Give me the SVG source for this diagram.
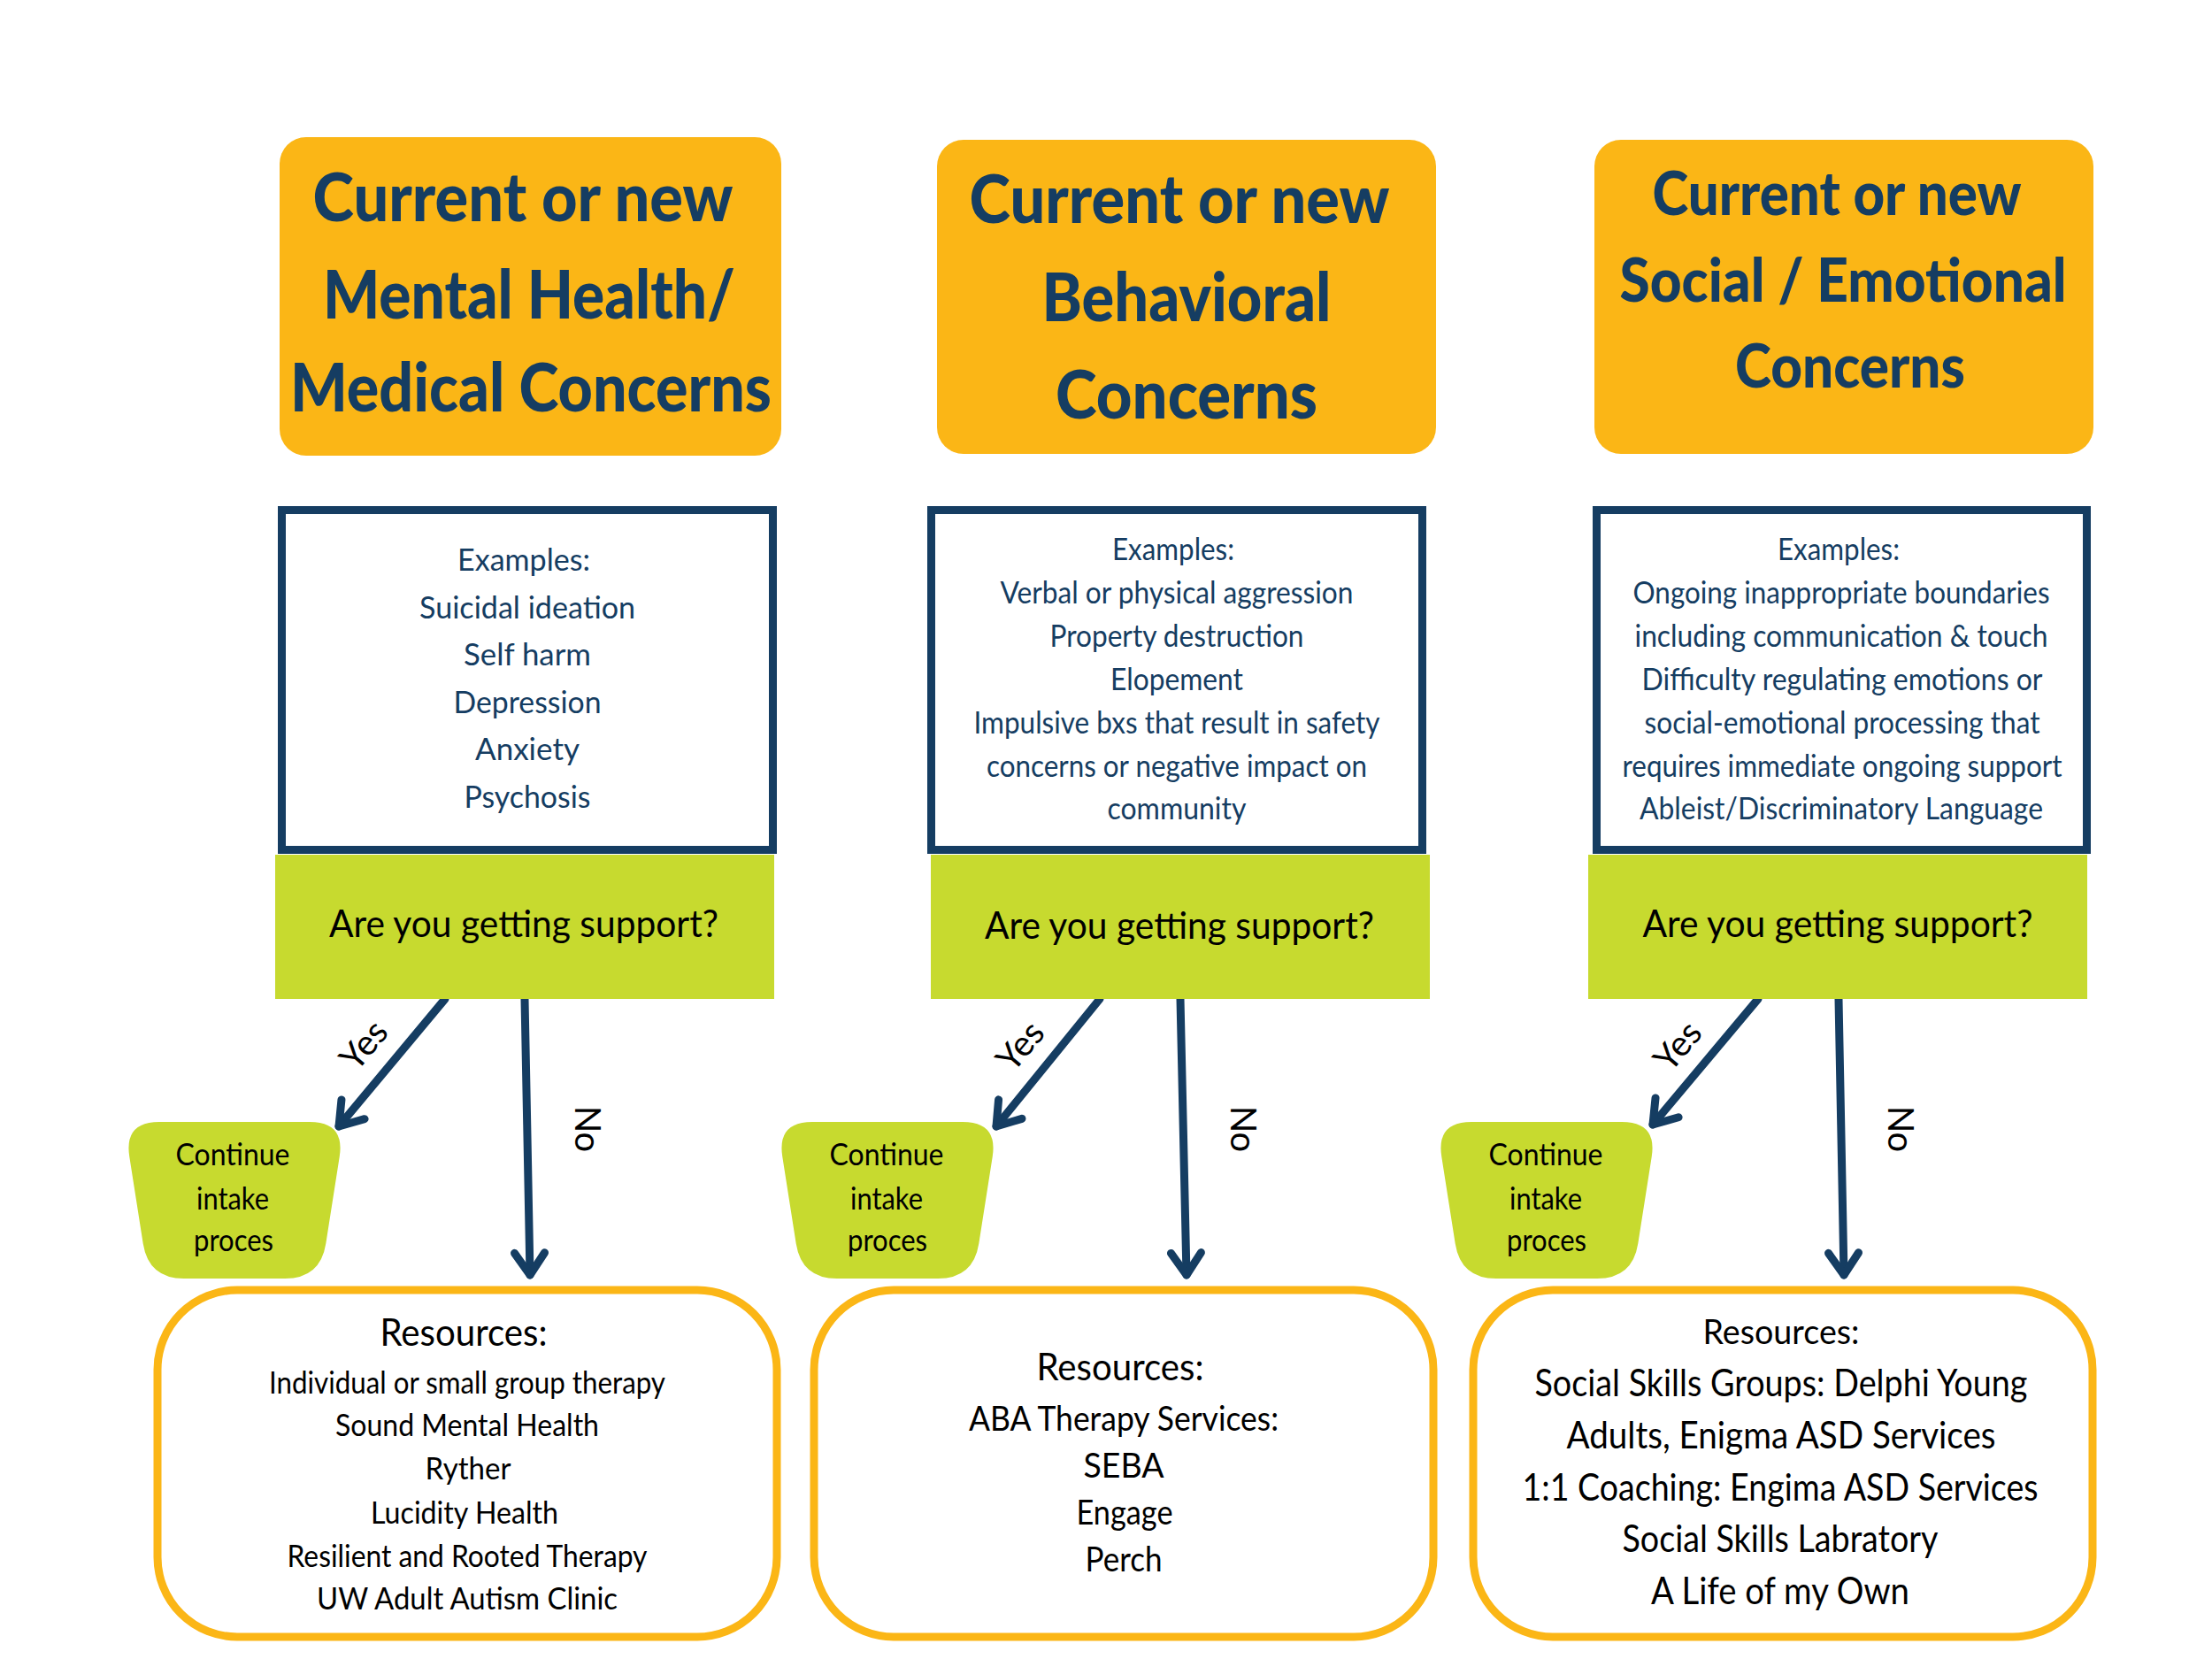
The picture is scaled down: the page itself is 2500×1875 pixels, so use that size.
<svg xmlns="http://www.w3.org/2000/svg" width="2500" height="1875" viewBox="0 0 2500 1875">
<defs>
<style>
.hdbox{fill:#FBB616}
.exbox{fill:#FFFFFF;stroke:#153D62;stroke-width:9}
.qbox{fill:#C7DA2F}
.resbox{fill:#FFFFFF;stroke:#FBB616;stroke-width:9}
.hd{font-family:Lato,"Open Sans",sans-serif;font-weight:900;fill:#153D62;text-anchor:middle}
.ex{font-family:Lato,"Open Sans",sans-serif;fill:#153D62;text-anchor:middle;font-size:34px}
.q{font-family:Lato,"Open Sans",sans-serif;fill:#000;text-anchor:middle;font-size:43px}
.ct{font-family:Lato,"Open Sans",sans-serif;fill:#000;text-anchor:middle;font-size:34px}
.rs{font-family:Lato,"Open Sans",sans-serif;fill:#000;text-anchor:middle}
.lbl{font-family:Lato,"Open Sans",sans-serif;fill:#000;text-anchor:middle;font-size:40px}
.arr{stroke:#153D62;stroke-width:9;fill:none;stroke-linecap:round}
</style>
<marker id="chev" markerUnits="userSpaceOnUse" viewBox="-40 -30 50 60" refX="0" refY="0" markerWidth="50" markerHeight="60" orient="auto" overflow="visible">
<path d="M -25,-17 L 0,0 L -25,17" fill="none" stroke="#153D62" stroke-width="9" stroke-linecap="round" stroke-linejoin="round"/>
</marker>
<path id="trap" d="M 6.3,39.5 Q 0,0 40,0 L 210,0 Q 250,0 243.7,39.5 L 228.3,137.5 Q 222,177 182,177 L 68,177 Q 28,177 21.7,137.5 Z"/>
</defs>
<rect width="2500" height="1875" fill="#FFFFFF"/>

<g id="connectors">
<line class="arr" x1="503" y1="1129" x2="383" y2="1273" marker-end="url(#chev)"/>
<line class="arr" x1="593" y1="1129" x2="599" y2="1441" marker-end="url(#chev)"/>
<line class="arr" x1="1243" y1="1129" x2="1126" y2="1273" marker-end="url(#chev)"/>
<line class="arr" x1="1334" y1="1129" x2="1341" y2="1441" marker-end="url(#chev)"/>
<line class="arr" x1="1987" y1="1129" x2="1868" y2="1271" marker-end="url(#chev)"/>
<line class="arr" x1="2078" y1="1129" x2="2084" y2="1441" marker-end="url(#chev)"/>
<text class="lbl" transform="translate(411,1181) rotate(-50)" dy="14">Yes</text>
<text class="lbl" transform="translate(664,1276) rotate(90)" dy="14">No</text>
<text class="lbl" transform="translate(1153,1182) rotate(-50)" dy="14">Yes</text>
<text class="lbl" transform="translate(1405,1276) rotate(90)" dy="14">No</text>
<text class="lbl" transform="translate(1896,1182) rotate(-50)" dy="14">Yes</text>
<text class="lbl" transform="translate(2148,1276) rotate(90)" dy="14">No</text>
</g>

<!-- Column 1 -->
<g id="header-mental">
<rect class="hdbox" x="316" y="155" width="567" height="360" rx="30"/>
<text class="hd" font-size="76" x="591" y="250" textLength="475" lengthAdjust="spacingAndGlyphs">Current or new</text>
<text class="hd" font-size="76" x="598" y="360" textLength="466" lengthAdjust="spacingAndGlyphs">Mental Health/</text>
<text class="hd" font-size="76" x="600" y="465" textLength="544" lengthAdjust="spacingAndGlyphs">Medical Concerns</text>
</g>
<g id="examples-mental">
<rect class="exbox" x="318.5" y="576.5" width="555" height="384"/>
<text class="ex" font-size="37" x="592" y="645" textLength="150" lengthAdjust="spacingAndGlyphs">Examples:</text>
<text class="ex" font-size="37" x="596" y="699" textLength="244" lengthAdjust="spacingAndGlyphs">Suicidal ideation</text>
<text class="ex" font-size="37" x="596" y="752" textLength="144" lengthAdjust="spacingAndGlyphs">Self harm</text>
<text class="ex" font-size="37" x="596" y="806" textLength="167" lengthAdjust="spacingAndGlyphs">Depression</text>
<text class="ex" font-size="37" x="596" y="859" textLength="118" lengthAdjust="spacingAndGlyphs">Anxiety</text>
<text class="ex" font-size="37" x="596" y="913" textLength="143" lengthAdjust="spacingAndGlyphs">Psychosis</text>
</g>
<g id="question-mental">
<rect class="qbox" x="311" y="966" width="564" height="163"/>
<text class="q" x="592" y="1059" textLength="440" lengthAdjust="spacingAndGlyphs">Are you getting support?</text>
</g>
<g id="continue-mental">
<use href="#trap" x="140" y="1268" fill="#C7DA2F"/>
<text class="ct" x="263" y="1317" textLength="129" lengthAdjust="spacingAndGlyphs">Continue</text>
<text class="ct" x="263" y="1367" textLength="82" lengthAdjust="spacingAndGlyphs">intake</text>
<text class="ct" x="264" y="1414" textLength="90" lengthAdjust="spacingAndGlyphs">proces</text>
</g>
<g id="resources-mental">
<rect class="resbox" x="178" y="1458" width="700" height="392" rx="90"/>
<text class="rs" font-size="42" x="524" y="1521" textLength="189" lengthAdjust="spacingAndGlyphs">Resources:</text>
<text class="rs" font-size="34" x="528" y="1575" textLength="448" lengthAdjust="spacingAndGlyphs">Individual or small group therapy</text>
<text class="rs" font-size="34" x="528" y="1623" textLength="298" lengthAdjust="spacingAndGlyphs">Sound Mental Health</text>
<text class="rs" font-size="34" x="529" y="1672" textLength="97" lengthAdjust="spacingAndGlyphs">Ryther</text>
<text class="rs" font-size="34" x="525" y="1722" textLength="212" lengthAdjust="spacingAndGlyphs">Lucidity Health</text>
<text class="rs" font-size="34" x="528" y="1771" textLength="407" lengthAdjust="spacingAndGlyphs">Resilient and Rooted Therapy</text>
<text class="rs" font-size="34" x="528" y="1819" textLength="340" lengthAdjust="spacingAndGlyphs">UW Adult Autism Clinic</text>
</g>

<!-- Column 2 -->
<g id="header-behavioral">
<rect class="hdbox" x="1059" y="158" width="564" height="355" rx="30"/>
<text class="hd" font-size="76" x="1333" y="252" textLength="475" lengthAdjust="spacingAndGlyphs">Current or new</text>
<text class="hd" font-size="76" x="1341" y="363" textLength="327" lengthAdjust="spacingAndGlyphs">Behavioral</text>
<text class="hd" font-size="76" x="1341" y="473" textLength="296" lengthAdjust="spacingAndGlyphs">Concerns</text>
</g>
<g id="examples-behavioral">
<rect class="exbox" x="1052.5" y="576.5" width="555" height="384"/>
<text class="ex" x="1326" y="633" textLength="138" lengthAdjust="spacingAndGlyphs">Examples:</text>
<text class="ex" x="1330" y="682" textLength="399" lengthAdjust="spacingAndGlyphs">Verbal or physical aggression</text>
<text class="ex" x="1330" y="731" textLength="287" lengthAdjust="spacingAndGlyphs">Property destruction</text>
<text class="ex" x="1330" y="780" textLength="150" lengthAdjust="spacingAndGlyphs">Elopement</text>
<text class="ex" x="1330" y="829" textLength="459" lengthAdjust="spacingAndGlyphs">Impulsive bxs that result in safety</text>
<text class="ex" x="1330" y="878" textLength="430" lengthAdjust="spacingAndGlyphs">concerns or negative impact on</text>
<text class="ex" x="1330" y="926" textLength="157" lengthAdjust="spacingAndGlyphs">community</text>
</g>
<g id="question-behavioral">
<rect class="qbox" x="1052" y="966" width="564" height="163"/>
<text class="q" x="1333" y="1061" textLength="440" lengthAdjust="spacingAndGlyphs">Are you getting support?</text>
</g>
<g id="continue-behavioral">
<use href="#trap" x="878" y="1268" fill="#C7DA2F"/>
<text class="ct" x="1002" y="1317" textLength="129" lengthAdjust="spacingAndGlyphs">Continue</text>
<text class="ct" x="1002" y="1367" textLength="82" lengthAdjust="spacingAndGlyphs">intake</text>
<text class="ct" x="1003" y="1414" textLength="90" lengthAdjust="spacingAndGlyphs">proces</text>
</g>
<g id="resources-behavioral">
<rect class="resbox" x="920" y="1458" width="700" height="392" rx="90"/>
<text class="rs" font-size="42" x="1266" y="1560" textLength="189" lengthAdjust="spacingAndGlyphs">Resources:</text>
<text class="rs" font-size="38" x="1270" y="1617" textLength="350" lengthAdjust="spacingAndGlyphs">ABA Therapy Services:</text>
<text class="rs" font-size="38" x="1270" y="1670" textLength="91" lengthAdjust="spacingAndGlyphs">SEBA</text>
<text class="rs" font-size="38" x="1271" y="1723" textLength="109" lengthAdjust="spacingAndGlyphs">Engage</text>
<text class="rs" font-size="38" x="1270" y="1776" textLength="87" lengthAdjust="spacingAndGlyphs">Perch</text>
</g>

<!-- Column 3 -->
<g id="header-social">
<rect class="hdbox" x="1802" y="158" width="564" height="355" rx="30"/>
<text class="hd" font-size="68" x="2076" y="243" textLength="417" lengthAdjust="spacingAndGlyphs">Current or new</text>
<text class="hd" font-size="68" x="2083" y="341" textLength="505" lengthAdjust="spacingAndGlyphs">Social / Emotional</text>
<text class="hd" font-size="68" x="2091" y="438" textLength="260" lengthAdjust="spacingAndGlyphs">Concerns</text>
</g>
<g id="examples-social">
<rect class="exbox" x="1804.5" y="576.5" width="554" height="384"/>
<text class="ex" x="2078" y="633" textLength="138" lengthAdjust="spacingAndGlyphs">Examples:</text>
<text class="ex" x="2081" y="682" textLength="471" lengthAdjust="spacingAndGlyphs">Ongoing inappropriate boundaries</text>
<text class="ex" x="2081" y="731" textLength="467" lengthAdjust="spacingAndGlyphs">including communication &amp; touch</text>
<text class="ex" x="2082" y="780" textLength="453" lengthAdjust="spacingAndGlyphs">Difficulty regulating emotions or</text>
<text class="ex" x="2082" y="829" textLength="447" lengthAdjust="spacingAndGlyphs">social-emotional processing that</text>
<text class="ex" x="2082" y="878" textLength="497" lengthAdjust="spacingAndGlyphs">requires immediate ongoing support</text>
<text class="ex" x="2081" y="926" textLength="456" lengthAdjust="spacingAndGlyphs">Ableist/Discriminatory Language</text>
</g>
<g id="question-social">
<rect class="qbox" x="1795" y="966" width="564" height="163"/>
<text class="q" x="2077" y="1059" textLength="441" lengthAdjust="spacingAndGlyphs">Are you getting support?</text>
</g>
<g id="continue-social">
<use href="#trap" x="1623" y="1268" fill="#C7DA2F"/>
<text class="ct" x="1747" y="1317" textLength="129" lengthAdjust="spacingAndGlyphs">Continue</text>
<text class="ct" x="1747" y="1367" textLength="82" lengthAdjust="spacingAndGlyphs">intake</text>
<text class="ct" x="1748" y="1414" textLength="90" lengthAdjust="spacingAndGlyphs">proces</text>
</g>
<g id="resources-social">
<rect class="resbox" x="1665" y="1458" width="700" height="392" rx="90"/>
<text class="rs" font-size="38" x="2013" y="1519" textLength="177" lengthAdjust="spacingAndGlyphs">Resources:</text>
<text class="rs" font-size="42" x="2013" y="1578" textLength="557" lengthAdjust="spacingAndGlyphs">Social Skills Groups: Delphi Young</text>
<text class="rs" font-size="42" x="2013" y="1637" textLength="485" lengthAdjust="spacingAndGlyphs">Adults, Enigma ASD Services</text>
<text class="rs" font-size="42" x="2012" y="1696" textLength="583" lengthAdjust="spacingAndGlyphs">1:1 Coaching: Engima ASD Services</text>
<text class="rs" font-size="42" x="2012" y="1754" textLength="357" lengthAdjust="spacingAndGlyphs">Social Skills Labratory</text>
<text class="rs" font-size="42" x="2012" y="1813" textLength="292" lengthAdjust="spacingAndGlyphs">A Life of my Own</text>
</g>
</svg>
